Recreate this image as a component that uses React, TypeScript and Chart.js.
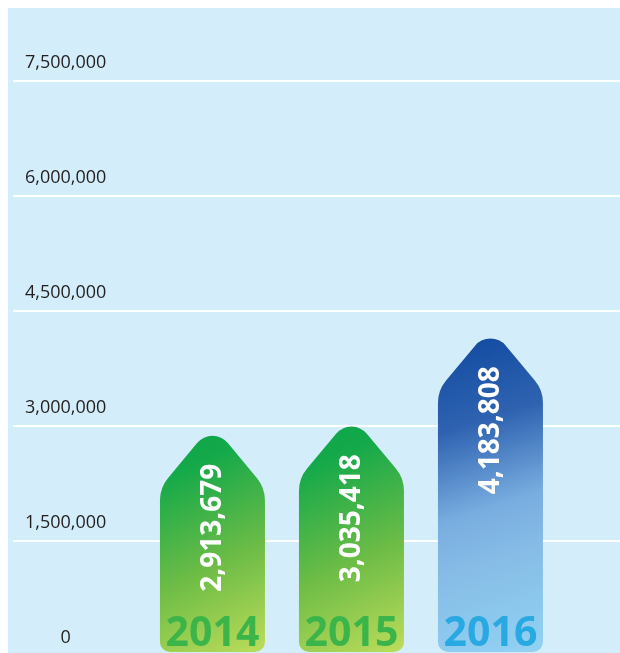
import React, { useEffect, useRef } from "react";
import { Chart, registerables } from "chart.js";

Chart.register(...registerables);

const years = ["2014", "2015", "2016"];
const values = [2913679, 3035418, 4183808];
const yTicks = [0, 1500000, 3000000, 4500000, 6000000, 7500000];

const yearColors = ["#3bb54a", "#3bb54a", "#29a9e1"];
const greenStops: [number, string][] = [
  [0, "#0aa64a"],
  [0.2, "#14a94a"],
  [0.6, "#6cbc46"],
  [1, "#bddc5a"],
];
const blueStops: [number, string][] = [
  [0, "#0b469d"],
  [0.3, "#2f63b1"],
  [0.55, "#78ade0"],
  [0.7, "#86bce6"],
  [1, "#91d2f3"],
];
const barStops = [greenStops, greenStops, blueStops];

const fmt = (v: number) => Number(v).toLocaleString("en-US");

const zeroPad = (scale: any) => {
  scale.paddingTop = 0;
  scale.paddingBottom = 0;
  scale.paddingLeft = 0;
  scale.paddingRight = 0;
};

const arrowPlugin = {
  id: "arrowBars",
  afterDatasetsDraw(chart: any) {
    const ctx: CanvasRenderingContext2D = chart.ctx;
    const meta = chart.getDatasetMeta(0);
    meta.data.forEach((el: any, i: number) => {
      const { x, y, base, width } = el.getProps(["x", "y", "base", "width"], true);
      const L = x - width / 2;
      const R = x + width / 2;
      const apexY = y - 8;
      const shoulderY = apexY + 1.2 * (width / 2);
      const bottom = base - 3;
      const rA = 20;
      const rS = 35;
      const rB = 10;
      ctx.save();
      ctx.beginPath();
      ctx.moveTo(L, (shoulderY + bottom) / 2);
      ctx.arcTo(L, shoulderY, x, apexY, rS);
      ctx.arcTo(x, apexY, R, shoulderY, rA);
      ctx.arcTo(R, shoulderY, R, bottom, rS);
      ctx.arcTo(R, bottom, L, bottom, rB);
      ctx.arcTo(L, bottom, L, shoulderY, rB);
      ctx.closePath();
      const g = ctx.createLinearGradient(L, apexY, R, bottom);
      barStops[i].forEach(([o, c]) => g.addColorStop(o, c));
      ctx.fillStyle = g;
      ctx.fill();

      // rotated value label
      ctx.save();
      ctx.translate(x + 8.5, y + 31);
      ctx.rotate(-Math.PI / 2);
      ctx.fillStyle = "#ffffff";
      ctx.font = 'bold 28px "Open Sans", sans-serif';
      ctx.textAlign = "right";
      ctx.textBaseline = "alphabetic";
      ctx.fillText(fmt(values[i]), 0, 0);
      ctx.restore();

      // year label
      ctx.fillStyle = yearColors[i];
      ctx.font = 'bold 41px "Open Sans", sans-serif';
      ctx.textAlign = "center";
      ctx.textBaseline = "alphabetic";
      ctx.fillText(years[i], x, base - 9);
      ctx.restore();
    });
  },
};

export default function App() {
  const ref = useRef<HTMLCanvasElement | null>(null);

  useEffect(() => {
    if (!ref.current) return;
    const chart = new Chart(ref.current, {
      type: "bar",
      data: {
        datasets: [
          {
            label: "Total",
            data: values.map((v, i) => ({ x: i, y: v })),
            backgroundColor: "rgba(0,0,0,0)",
            borderWidth: 0,
            barThickness: 105,
          },
        ],
      },
      options: {
        animation: false,
        responsive: false,
        devicePixelRatio: 1,
        layout: { padding: { top: 73, bottom: 12, left: 5, right: 0 } },
        plugins: {
          legend: { display: false },
          tooltip: { enabled: false },
        },
        scales: {
          x: {
            type: "linear",
            min: -1.435,
            max: 2.932,
            offset: false,
            display: false,
            ticks: { display: false },
            grid: { display: false },
            afterFit: zeroPad,
          },
          y: {
            min: 0,
            max: 7500000,
            afterBuildTicks: (scale: any) => {
              scale.ticks = yTicks.map((v) => ({ value: v }));
            },
            afterFit: (scale: any) => {
              scale.width = 0;
              zeroPad(scale);
            },
            border: { display: false },
            grid: { color: "#ffffff", lineWidth: 2, drawTicks: false },
            ticks: {
              mirror: true,
              crossAlign: "center",
              padding: 12,
              labelOffset: -18,
              color: "#231f20",
              font: { family: '"Open Sans", sans-serif', size: 18 },
              callback: (v: any) => fmt(v),
            },
          },
        },
      },
      plugins: [arrowPlugin],
    } as any);
    return () => chart.destroy();
  }, []);

  return (
    <>
      <style>{"html{overflow:hidden}"}</style>
      <div
        style={{
          position: "fixed",
          left: 8,
          top: 8,
          width: 612,
          height: 645,
          overflow: "hidden",
          background: "#d3eefa",
        }}
      >
        <canvas ref={ref} width={612} height={660} style={{ display: "block", width: 612, height: 660 }} />
      </div>
    </>
  );
}
